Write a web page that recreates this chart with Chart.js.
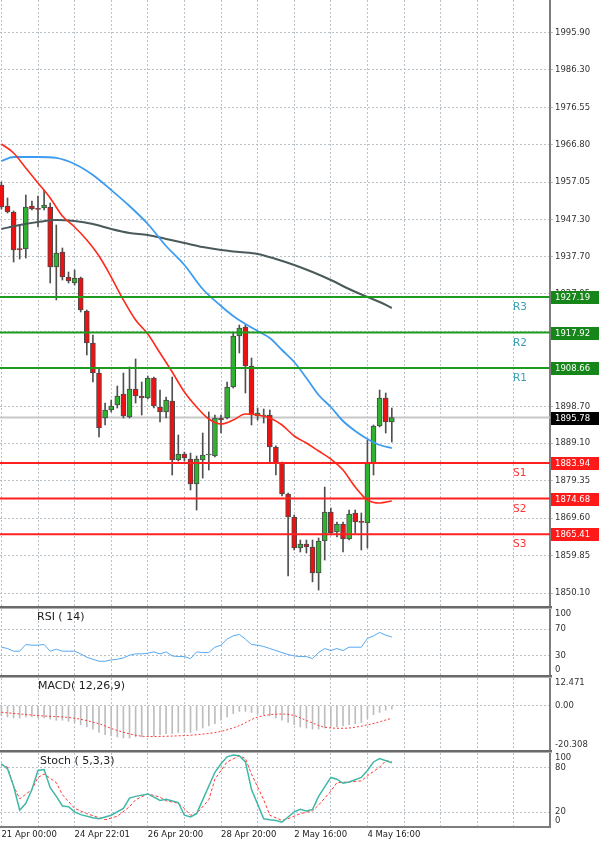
<!DOCTYPE html>
<html>
<head>
<meta charset="utf-8">
<script src="https://cdn.jsdelivr.net/npm/chart.js@4.4.0/dist/chart.umd.min.js"></script>
<style>
  body { margin: 0; background: #fff; width: 600px; height: 846px; overflow: hidden; position: relative; }
  canvas { position: absolute; left: 0; }
  .sep { position: absolute; left: 0; width: 552px; height: 3px; background: linear-gradient(#6a6a6a 0, #6a6a6a 2px, #b0b0b0 2px); }
</style>
</head>
<body>
<canvas id="main" width="600" height="606" style="top:0"></canvas>
<canvas id="rsi" width="600" height="67" style="top:609px"></canvas>
<canvas id="macd" width="600" height="73" style="top:678px"></canvas>
<canvas id="stoch" width="600" height="93" style="top:753px"></canvas>
<div class="sep" style="top:606px"></div>
<div class="sep" style="top:675px"></div>
<div class="sep" style="top:750px"></div>

<script>
// candles (one per bar, index 0..64)
const open  = [1956.33,1950.86,1949.30,1939.60,1939.66,1950.86,1950.10,1950.34,1950.60,1934.98,
               1938.88,1932.37,1930.81,1932.11,1923.52,1915.19,1907.38,1895.66,1897.75,1899.05,
               1901.91,1895.92,1903.20,1901.39,1900.87,1906.08,1898.53,1897.23,1900.09,1884.73,
               1886.29,1884.99,1878.48,1884.73,1886.03,1885.77,1895.66,1895.66,1903.73,1917.01,
               1919.35,1909.20,1896.18,1896.18,1896.44,1888.11,1883.95,1875.88,1869.89,1861.82,
               1862.86,1862.08,1855.31,1863.64,1871.19,1865.98,1868.07,1864.16,1870.93,1868.59,
               1868.33,1883.95,1893.58,1900.87,1894.62];
const high  = [1957.11,1952.94,1949.56,1945.91,1953.72,1952.16,1953.46,1955.02,1951.64,1945.91,
               1939.92,1933.67,1934.19,1932.37,1923.78,1917.27,1908.68,1899.56,1900.35,1903.99,
               1907.38,1908.94,1911.03,1905.04,1906.60,1906.34,1902.95,1901.13,1906.34,1891.24,
               1886.81,1886.55,1885.77,1891.76,1897.23,1896.44,1896.44,1905.04,1917.79,1919.88,
               1919.88,1911.28,1898.27,1898.01,1897.75,1888.40,1884.20,1876.10,1870.41,1863.90,
               1863.90,1863.90,1864.42,1877.70,1872.23,1868.59,1868.59,1871.71,1871.71,1870.93,
               1889.90,1893.84,1902.95,1902.17,1898.27];
const low   = [1950.08,1949.04,1936.28,1937.06,1937.32,1949.82,1945.39,1949.82,1930.81,1926.39,
               1931.59,1930.81,1930.29,1923.26,1912.07,1905.04,1890.72,1893.84,1897.23,1898.27,
               1895.66,1895.66,1899.56,1896.44,1900.61,1898.27,1894.62,1895.66,1880.82,1884.47,
               1884.47,1876.92,1871.71,1880.04,1882.13,1885.51,1891.76,1895.40,1903.47,1912.59,
               1902.17,1893.84,1895.14,1894.36,1883.95,1880.82,1875.36,1854.53,1861.30,1860.78,
               1860.52,1853.01,1850.88,1858.69,1865.20,1864.68,1860.78,1863.90,1865.72,1861.30,
               1861.82,1880.82,1893.32,1891.76,1889.40];
const close = [1950.60,1949.30,1939.40,1939.50,1950.60,1950.08,1950.00,1951.12,1934.98,1938.62,
               1932.37,1931.33,1932.11,1923.78,1915.19,1907.38,1893.06,1897.75,1898.79,1901.39,
               1896.18,1903.20,1901.39,1900.87,1906.08,1898.79,1897.23,1900.35,1884.73,1886.29,
               1885.25,1878.48,1884.99,1886.03,1886.10,1895.66,1895.14,1903.73,1917.01,1919.09,
               1909.20,1896.44,1896.96,1896.44,1888.11,1883.95,1875.88,1869.89,1861.82,1862.86,
               1862.08,1855.31,1863.64,1871.19,1865.72,1868.07,1864.16,1870.67,1868.59,1868.50,
               1883.95,1893.58,1900.87,1894.62,1895.78];

// moving averages (bar index, price)
const maRedIdx = [0,2,4,6,8,10,12,14,16,18,20,22,24,26,28,30,32,34,36,38,40,42,44,46,48,50,52,54,56,58,60,62,64];
const maRed    = [1967.0,1964.66,1960.75,1956.85,1952.94,1948.25,1945.39,1942.01,1937.84,1932.37,1926.39,
                  1921.18,1917.53,1912.58,1907.64,1902.43,1898.53,1895.40,1894.10,1895.14,1896.70,1896.44,
                  1895.66,1893.84,1890.98,1889.15,1887.07,1884.99,1882.13,1877.70,1874.31,1873.53,1874.05];
const maBlueIdx = [0,2,6,9,12,15,18,21,24,27,30,33,36,38,40,42,44,46,48,50,52,54,56,58,60,62,64];
const maBlue    = [1962.57,1963.62,1963.62,1963.36,1961.79,1958.93,1955.02,1950.86,1946.17,1940.44,1935.50,
                   1929.25,1924.82,1922.22,1920.14,1918.31,1916.49,1913.37,1910.24,1906.08,1901.65,1898.53,
                   1894.88,1892.28,1890.20,1888.63,1887.85];
const maGrayIdx = [0,3,6,9,12,15,18,21,24,27,30,33,36,39,42,45,48,51,54,57,60,62,64];
const maGray    = [1944.87,1945.91,1946.69,1947.21,1946.95,1946.17,1944.87,1943.83,1943.31,1942.27,1941.23,
                   1940.18,1939.40,1938.88,1938.36,1937.06,1935.50,1933.67,1931.59,1929.25,1927.17,1925.86,1924.30];

// pivot levels and last price
const levelNames  = ['R3','R2','R1','S1','S2','S3'];
const levelValues = [1927.19,1917.92,1908.66,1883.94,1874.68,1865.41];
const lastPrice = 1895.78;

// price axis
const priceTicks = [2005.65,1995.90,1986.30,1976.55,1966.80,1957.05,1947.30,1937.70,1927.95,1918.20,1908.45,
                    1898.70,1889.10,1879.35,1869.60,1859.85,1850.10];
const priceMin = 1846.72, priceMax = 2004.49;

// time axis
const xMin = -0.23, xMax = 89.93;
const gridIdx = [0,6,12,18,24,30,36,42,48,54,60,66,72,78,84];
const dateIdx = [0,12,24,36,48,60];
const dateLabels = ['21 Apr 00:00','24 Apr 22:01','26 Apr 20:00','28 Apr 20:00','2 May 16:00','4 May 16:00'];

// RSI(14)
const rsi = [43,41,37,37,47,46,46,47,37,40, 37,37,37,33,28,25,22,22,24,25,
             27,31,33,33,34,36,33,36,30,29, 29,26,36,35,35,43,46,55,60,62,
             55,47,46,44,41,38,35,32,30,29, 29,26,35,41,38,41,38,43,43,43,
             56,60,65,61,58];
const rsiGrid = [70,30];
const rsiLabels = ['100','70','30','0'];
const rsiLabelVals = [100,70,30,0];

// MACD(12,26,9)
const macdHist = [-4.5,-5,-5.5,-5.5,-5,-5,-5.5,-5.5,-6,-6.5, -6.5,-7,-7.5,-8.5,-9.5,-10.5,-12,-13,-13.5,-14,
                  -14.5,-14.5,-14,-14,-13.5,-13.5,-13,-12.5,-12.5,-12, -12,-12,-11,-10,-9,-8,-6.5,-5,-3.5,-2.5,
                  -2.5,-3,-3.5,-4,-4.5,-5.5,-6.5,-7.5,-8.5,-9.5, -10,-10.5,-10.5,-10,-9.5,-9.5,-9,-8.5,-8,-7.5,
                  -5.5,-4,-3,-2,-1.5];
const macdSigIdx = [0,6,12,16,19,24,28,32,36,39,42,46,48,50,53,56,60,64];
const macdSig    = [-2.9,-4.4,-5.6,-8.1,-11.1,-13.8,-13.6,-13.0,-11.5,-8.9,-5.1,-3.7,-4.4,-6.6,-9.6,-10.1,-8.6,-5.6];
const macdMin = -20.308, macdMax = 12.471;
const macdLabelVals = [12.471,0,-20.308];
const macdLabels = ['12.471','0.00','-20.308'];

// Stochastic(5,3,3)
const stochIdx = [0,1,2,3,4,5,6,7,8,9,10,11,12,13,15,16,18,20,21,22,24,25,26,27,29,30,31,32,33,35,
                  36,37,38,39,40,41,43,44,45,46,47,48,49,50,51,52,54,55,56,57,59,60,61,62,64];
const stochK   = [85.5,78.6,55.4,22.8,32.1,50.6,76.3,77.6,53.0,41.4,28.4,27.4,20.4,16.7,12.5,11.2,15.9,25.2,39.0,41.4,
                  44.7,40.4,35.8,37.6,33.0,15.9,13.5,18.1,36.7,73.9,85.5,94.8,97.2,96.2,87.9,50.6,11.2,9.8,8.8,6.5,
                  13.5,20.4,23.8,21.8,23.8,41.4,67.0,64.6,59.1,60.9,67.0,76.3,87.9,92.5,86.9];
const stochDIdx = [0,1,2,3,5,6,7,9,10,12,14,16,17,19,21,22,24,26,27,29,30,31,32,34,35,37,39,40,41,43,
                   44,46,47,49,51,52,54,55,57,59,60,62,63,64];
const stochD    = [84.6,80.9,55.3,38.0,50.6,67.0,71.6,59.9,43.7,25.2,18.1,12.5,9.8,14.5,27.4,36.8,44.7,40.4,35.4,32.1,
                   25.0,15.9,18.1,36.8,64.6,87.9,96.2,92.5,71.6,36.8,15.9,8.8,11.2,18.1,21.8,29.7,48.3,59.9,60.9,62.3,
                   69.2,80.9,89.3,88.7];
const stochGrid = [80,20];
const stochLabelVals = [100,80,20,0];
const stochLabels = ['100','80','20','0'];

const GRID = '#b8c0c8';
const AXIS = '#7d7d7d';
const UP = '#2fb32f', DOWN = '#ee1111';

Chart.defaults.font.family = '"DejaVu Sans", sans-serif';
Chart.defaults.color = '#333';

const pts = (xs, ys) => xs.map((x, k) => ({x: x, y: ys[k]}));

function xScale(showLabels) {
  return {
    type: 'linear', min: xMin, max: xMax, offset: false,
    afterBuildTicks: s => { s.ticks = gridIdx.map(v => ({value: v})); },
    afterFit: s => { s.paddingLeft = 0; s.paddingRight = 0; if (showLabels) s.height = 19; },
    grid: { color: GRID, drawTicks: false, offset: false },
    border: { display: showLabels, color: AXIS, width: 2, dash: [2, 2] },
    ticks: {
      display: showLabels, autoSkip: false, maxRotation: 0, minRotation: 0,
      align: 'start', padding: 3, color: '#222', font: { size: 8.5 },
      callback: v => { const k = dateIdx.indexOf(v); return k >= 0 ? dateLabels[k] : ''; }
    }
  };
}

function sideScale(min, max, gridVals) {
  return {
    type: 'linear', position: 'right', min: min, max: max,
    afterBuildTicks: s => { s.ticks = gridVals.map(v => ({value: v})); },
    afterFit: s => { s.width = 50; s.paddingTop = 0; s.paddingBottom = 0; },
    ticks: { display: false },
    grid: { color: GRID, drawTicks: false },
    border: { display: true, color: AXIS, width: 2, dash: [2, 2] }
  };
}

// labels on the right of the small panels, and the panel title
const sidePlugin = {
  id: 'side',
  afterDraw(chart, args, opts) {
    const {ctx, chartArea, scales} = chart;
    ctx.save();
    ctx.font = '8.5px "DejaVu Sans"';
    ctx.fillStyle = '#333';
    ctx.textBaseline = 'middle';
    ctx.textAlign = 'left';
    opts.values.forEach((v, k) => {
      let py = scales.y.getPixelForValue(v);
      py = Math.min(Math.max(py, chartArea.top + 5), chartArea.bottom - 6);
      ctx.fillText(opts.texts[k], chartArea.right + 5, py);
    });
    ctx.font = '11px "DejaVu Sans"';
    ctx.fillStyle = '#222';
    ctx.fillText(opts.title, opts.titleX, chartArea.top + 8);
    ctx.restore();
  }
};

// boxes with the pivot prices on the price axis, and the R/S names
const levelPlugin = {
  id: 'levels',
  afterDraw(chart) {
    const {ctx, chartArea, scales} = chart;
    ctx.save();
    ctx.textBaseline = 'middle';
    ctx.textAlign = 'left';
    const box = (v, fill) => {
      const py = Math.round(scales.y.getPixelForValue(v));
      ctx.fillStyle = fill;
      ctx.fillRect(chartArea.right + 1, py - 6, 48, 13);
      ctx.fillStyle = '#fff';
      ctx.font = '8.5px "DejaVu Sans"';
      ctx.fillText(v.toFixed(2), chartArea.right + 5, py + 0.5);
      return py;
    };
    levelValues.forEach((v, k) => {
      const res = k < 3;
      const py = box(v, res ? '#16861a' : '#ff1a1a');
      ctx.font = '10.5px "DejaVu Sans"';
      ctx.fillStyle = res ? '#3aa0b4' : '#ff3333';
      ctx.fillText(levelNames[k], 513, py + 10);
    });
    box(lastPrice, '#000');
    ctx.restore();
  }
};

const common = {
  responsive: false,
  animation: false,
  events: [],
  layout: { padding: 0 }
};

// main price panel
new Chart(document.getElementById('main'), {
  type: 'bar',
  data: {
    datasets: [
      ...levelValues.map((v, k) => ({
        type: 'line', data: [{x: xMin, y: v}, {x: xMax, y: v}],
        borderColor: k < 3 ? '#1f9c1f' : '#ff2020', borderWidth: 2, pointRadius: 0, order: 0
      })),
      { type: 'line', data: pts(maRedIdx, maRed), borderColor: '#ff2a1a', borderWidth: 1.6,
        pointRadius: 0, cubicInterpolationMode: 'monotone', order: 1 },
      { type: 'line', data: pts(maBlueIdx, maBlue), borderColor: '#3d9cf0', borderWidth: 1.8,
        pointRadius: 0, cubicInterpolationMode: 'monotone', order: 1 },
      { type: 'line', data: pts(maGrayIdx, maGray), borderColor: '#4a5a5a', borderWidth: 2,
        pointRadius: 0, cubicInterpolationMode: 'monotone', order: 1 },
      { type: 'bar', data: open.map((o, i) => ({x: i, y: [o, close[i]]})),
        backgroundColor: open.map((o, i) => close[i] >= o ? UP : DOWN),
        borderColor: '#4a4a4a', borderWidth: 1, borderSkipped: false,
        barThickness: 5, minBarLength: 1, grouped: false, order: 3 },
      { type: 'bar', data: low.map((l, i) => ({x: i, y: [l, high[i]]})),
        backgroundColor: '#505050', barThickness: 1, grouped: false, order: 4 },
      { type: 'line', data: [{x: xMin, y: lastPrice}, {x: xMax, y: lastPrice}],
        borderColor: '#c8c8c8', borderWidth: 2, pointRadius: 0, order: 5 }
    ]
  },
  options: Object.assign({}, common, {
    plugins: { legend: { display: false }, tooltip: { enabled: false } },
    scales: {
      x: xScale(false),
      y: {
        type: 'linear', position: 'right', min: priceMin, max: priceMax,
        afterBuildTicks: s => { s.ticks = priceTicks.filter(v => v <= priceMax).map(v => ({value: v})); },
        afterFit: s => { s.width = 50; s.paddingTop = 0; s.paddingBottom = 0; },
        ticks: { autoSkip: false, padding: 2, color: '#333', font: { size: 8.5 }, callback: v => v.toFixed(2) },
        grid: { color: GRID, tickLength: 3 },
        border: { display: true, color: AXIS, width: 2, dash: [2, 2] }
      }
    }
  }),
  plugins: [levelPlugin]
});

// RSI panel
new Chart(document.getElementById('rsi'), {
  type: 'line',
  data: { datasets: [
    { data: rsi.map((v, i) => ({x: i, y: v})), borderColor: '#55a8f0', borderWidth: 1, pointRadius: 0 }
  ]},
  options: Object.assign({}, common, {
    plugins: { legend: { display: false }, tooltip: { enabled: false },
      side: { values: rsiLabelVals, texts: rsiLabels, title: 'RSI ( 14)', titleX: 37 } },
    scales: { x: xScale(false), y: sideScale(0, 100, rsiGrid) }
  }),
  plugins: [sidePlugin]
});

// MACD panel
new Chart(document.getElementById('macd'), {
  type: 'bar',
  data: { datasets: [
    { type: 'line', data: pts(macdSigIdx, macdSig), borderColor: '#ff3a3a', borderWidth: 1,
      borderDash: [2, 2], pointRadius: 0, cubicInterpolationMode: 'monotone', order: 0 },
    { type: 'bar', data: macdHist.map((v, i) => ({x: i, y: v})), backgroundColor: '#bdbdbd',
      barThickness: 1, grouped: false, order: 1 }
  ]},
  options: Object.assign({}, common, {
    plugins: { legend: { display: false }, tooltip: { enabled: false },
      side: { values: macdLabelVals, texts: macdLabels, title: 'MACD( 12,26,9)', titleX: 38 } },
    scales: { x: xScale(false), y: sideScale(macdMin, macdMax, [0]) }
  }),
  plugins: [sidePlugin]
});

// Stochastic panel
new Chart(document.getElementById('stoch'), {
  type: 'line',
  data: { datasets: [
    { data: pts(stochIdx, stochK), borderColor: '#3fb8a8', borderWidth: 1.5, pointRadius: 0, order: 0 },
    { data: pts(stochDIdx, stochD), borderColor: '#ff3a3a', borderWidth: 1, borderDash: [3, 2],
      pointRadius: 0, order: 1 }
  ]},
  options: Object.assign({}, common, {
    plugins: { legend: { display: false }, tooltip: { enabled: false },
      side: { values: stochLabelVals, texts: stochLabels, title: 'Stoch ( 5,3,3)', titleX: 40 } },
    scales: { x: xScale(true), y: sideScale(0, 100, stochGrid) }
  }),
  plugins: [sidePlugin]
});
</script>
</body>
</html>
